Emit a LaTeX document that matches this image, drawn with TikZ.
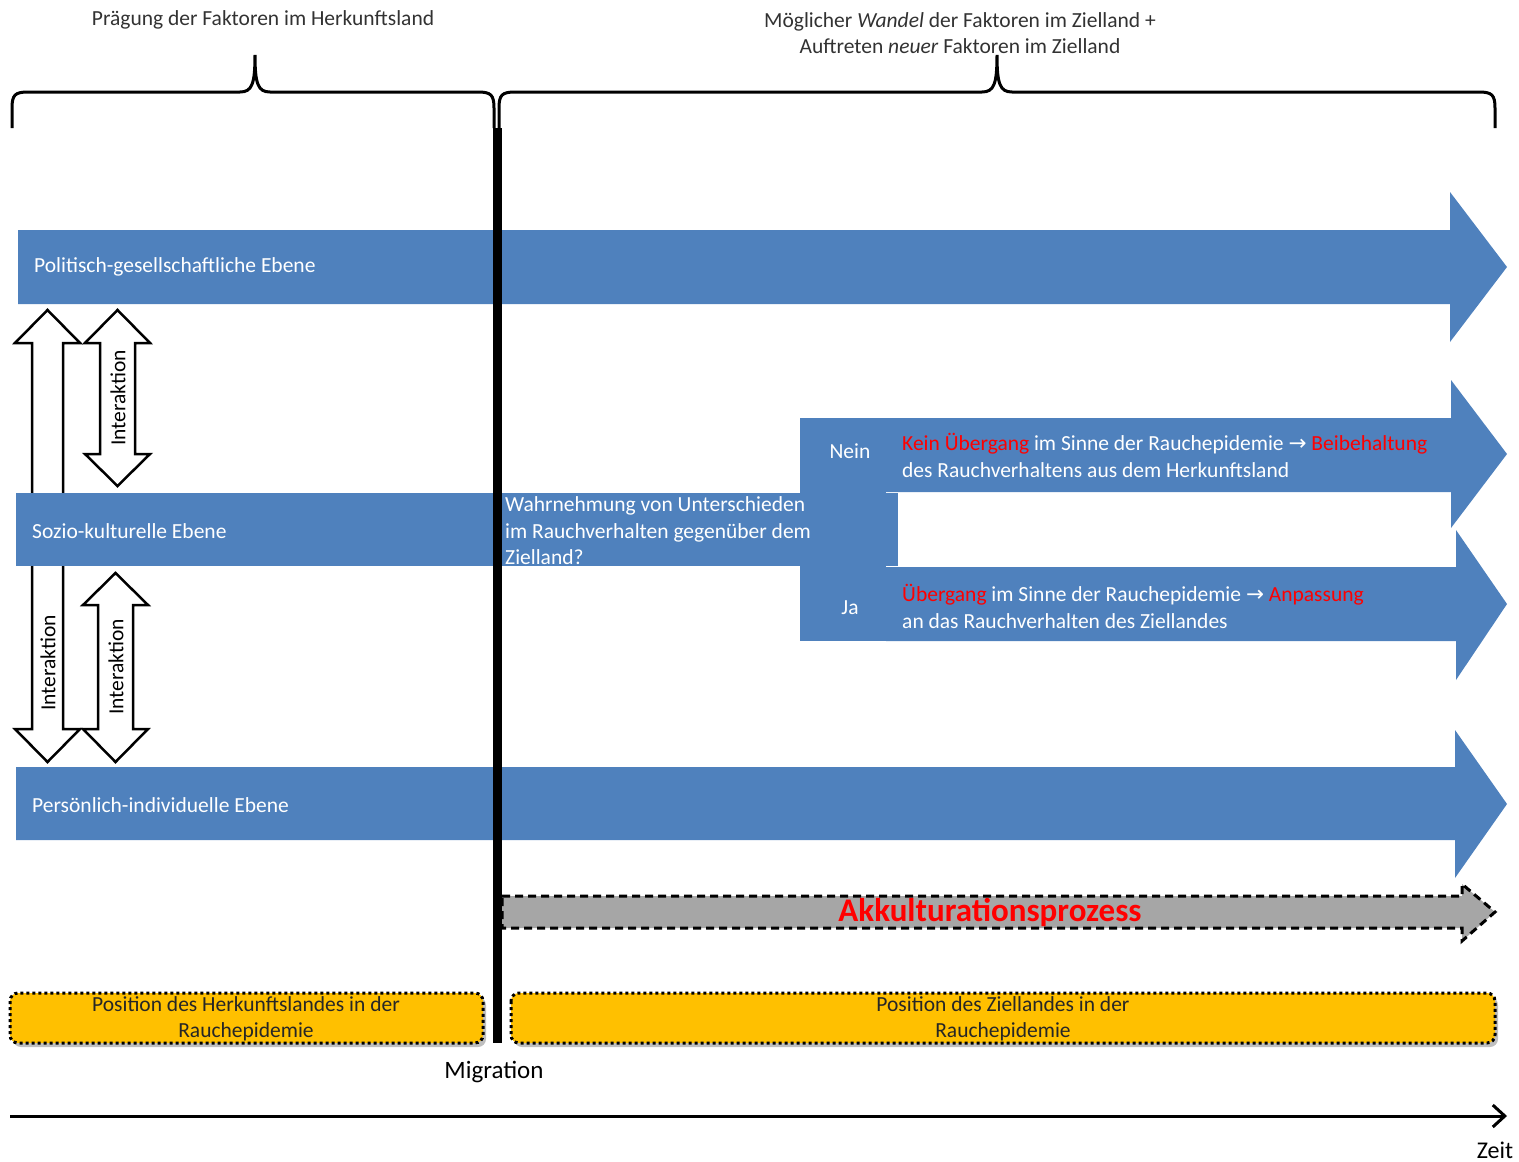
\documentclass[tikz,border=0pt]{standalone}
\usepackage{fontspec}
\setmainfont{Carlito}
\newfontfamily\arrowfont{DejaVu Sans}
\usepackage{tikz}
\usetikzlibrary{arrows.meta,shadows}

\definecolor{bandblue}{RGB}{79,129,189}
\definecolor{posyellow}{RGB}{255,192,0}
\definecolor{procgray}{RGB}{166,166,166}
\definecolor{hired}{RGB}{255,0,0}
\definecolor{hdrgray}{RGB}{50,50,50}
\newcommand{\lblsize}{\fontsize{21.5}{26.5}\selectfont}

\begin{document}
\begin{tikzpicture}[x=1pt,y=-1pt,
    band/.style={fill=bandblue},
    inter/.style={draw=black,fill=white,line width=2.5pt,line join=miter},
    brace/.style={draw=black,line width=3pt},
    lbl/.style={text=white,font=\lblsize,inner sep=0pt},
    hdr/.style={text=hdrgray,font=\lblsize,inner sep=0pt},
    posbox/.style={draw=black,fill=posyellow,line width=3pt,dash pattern=on 3pt off 3pt,
        rounded corners=8pt,drop shadow={shadow xshift=3pt,shadow yshift=-4pt,opacity=0.5}},
    proc/.style={draw=black,fill=procgray,line width=3pt,dash pattern=on 8pt off 5pt}]

    \useasboundingbox (0,0) rectangle (1519,1162);

    % Braces
    \draw[brace] (12,128) -- (12,108) .. controls (12,95) and (15,92) .. (28,92) -- (240,92)
        .. controls (252,92) and (255,84) .. (255,55) .. controls (255,84) and (258,92) .. (270,92)
        -- (478,92) .. controls (491,92) and (494,95) .. (494,108) -- (494,128);
    \draw[brace] (499,128) -- (499,108) .. controls (499,95) and (502,92) .. (515,92) -- (982,92)
        .. controls (994,92) and (997,84) .. (997,55) .. controls (997,84) and (1000,92) .. (1012,92)
        -- (1479,92) .. controls (1492,92) and (1495,95) .. (1495,108) -- (1495,128);

    \node[hdr] (hdrL) at (263,20) {Prägung der Faktoren im Herkunftsland};
    \node[hdr,align=center] (hdrR) at (960,33)
        {Möglicher \textit{Wandel} der Faktoren im Zielland +\\Auftreten \textit{neuer} Faktoren im Zielland};

    % Interaction arrows
    \draw[inter] (47.5,310) -- (80,343) -- (63,343) -- (63,729) -- (80,729) -- (47.5,762)
        -- (15,729) -- (32,729) -- (32,343) -- (15,343) -- cycle;
    \draw[inter] (117.5,310) -- (150,343) -- (135,343) -- (135,454) -- (150,454) -- (117.5,486)
        -- (85,454) -- (100,454) -- (100,343) -- (85,343) -- cycle;
    \draw[inter] (115.5,573) -- (148,605) -- (133,605) -- (133,729) -- (148,729) -- (115.5,762)
        -- (83,729) -- (98,729) -- (98,605) -- (83,605) -- cycle;

    \node[hdr,text=black,rotate=90] (inter1) at (48,663) {Interaktion};
    \node[hdr,text=black,rotate=90] (inter2) at (118,398) {Interaktion};
    \node[hdr,text=black,rotate=90] (inter3) at (116,667) {Interaktion};

    % Bands
    \fill[band] (18,230) -- (1450,230) -- (1450,192) -- (1507,267) -- (1450,342) -- (1450,304)
        -- (18,304) -- cycle;
    \fill[band] (16,493) rectangle (898,566);
    \fill[band] (800,418) rectangle (886,641);
    \fill[band] (886,418) -- (1451,418) -- (1451,380) -- (1507,454) -- (1451,528) -- (1451,492)
        -- (886,492) -- cycle;
    \fill[band] (886,567) -- (1456,567) -- (1456,530) -- (1507,604) -- (1456,680) -- (1456,641)
        -- (886,641) -- cycle;
    \fill[band] (16,767) -- (1455,767) -- (1455,730) -- (1507,804) -- (1455,878) -- (1455,840)
        -- (16,840) -- cycle;

    \node[lbl,anchor=west] (pol) at (34,267) {Politisch-gesellschaftliche Ebene};
    \node[lbl,anchor=west] (soz) at (32,531) {Sozio-kulturelle Ebene};
    \node[lbl,anchor=west] (pers) at (32,805) {Persönlich-individuelle Ebene};
    \node[lbl,anchor=west,align=left] (frage) at (505,531)
        {Wahrnehmung von Unterschieden\\im Rauchverhalten gegenüber dem\\Zielland?};
    \node[lbl] (nein) at (850,451) {Nein};
    \node[lbl] (ja) at (850,608) {Ja};
    \node[lbl,anchor=west,align=left] (neintxt) at (902,455.5)
        {\textcolor{hired}{Kein Übergang} im Sinne der Rauchepidemie {\arrowfont →} \textcolor{hired}{Beibehaltung}\\des Rauchverhaltens aus dem Herkunftsland};
    \node[lbl,anchor=west,align=left] (jatxt) at (902,606.5)
        {\textcolor{hired}{Übergang} im Sinne der Rauchepidemie {\arrowfont →} \textcolor{hired}{Anpassung}\\an das Rauchverhalten des Ziellandes};

    % Acculturation
    \draw[proc] (502,896) -- (1462,896) -- (1462,884) -- (1495,912) -- (1462,941) -- (1462,928)
        -- (502,928) -- cycle;
    \node[inner sep=0pt,text=hired,font=\fontsize{33}{38}\selectfont\bfseries] (akk) at (990,912)
        {Akkulturationsprozess};

    % Migration line
    \fill[black] (493,128) rectangle (502,1043);

    % Positions
    \draw[posbox] (10,993) rectangle (483,1043);
    \draw[posbox] (511,993) rectangle (1495,1043);
    \node[hdr,text=black!85,align=center] (posH) at (246,1019)
        {Position des Herkunftslandes in der\\Rauchepidemie};
    \node[hdr,text=black!85,align=center] (posZ) at (1003,1019)
        {Position des Ziellandes in der\\Rauchepidemie};

    \node[hdr,text=black,font=\fontsize{25}{30}\selectfont] (mig) at (494,1072) {Migration};

    % Time axis
    \coordinate (t0) at (10,1116);
    \coordinate (t1) at (1507,1116);
    \draw[line width=3pt,-{Straight Barb[length=12pt,width=22pt,line width=3pt]}] (t0) -- (t1);
    \node[hdr,text=black,font=\fontsize{24}{28}\selectfont] (zeit) at (1495,1150) {Zeit};

\end{tikzpicture}
\end{document}
